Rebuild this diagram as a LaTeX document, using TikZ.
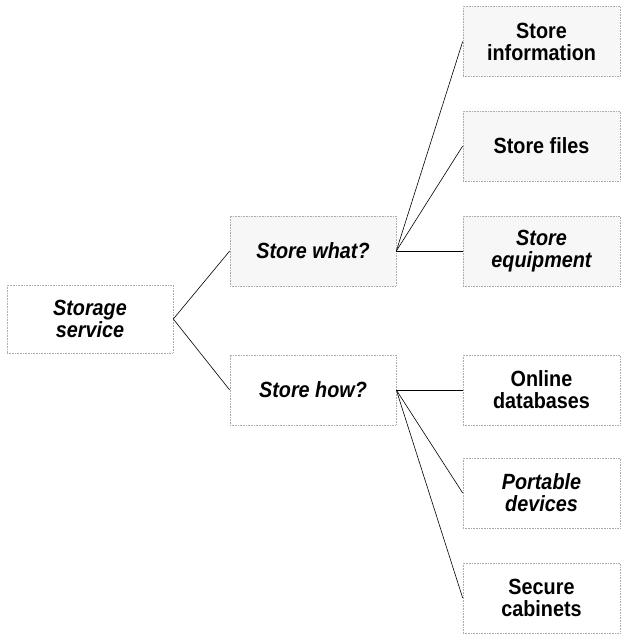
\documentclass[tikz,border=0pt]{standalone}
\usepackage{fontspec}
\setmainfont{Liberation Sans}[FakeStretch=0.9]
\begin{document}
\begin{tikzpicture}[x=1pt,y=-1pt,
  box/.style={draw=gray!65, densely dotted, line width=0.6pt,
    minimum height=70pt, align=center, inner sep=0pt,
    font=\fontsize{22}{22}\selectfont\bfseries},
  midbox/.style={box, minimum width=166pt},
  leafbox/.style={box, minimum width=157pt},
  shaded/.style={fill=black!3},
  slanted/.style={font=\fontsize{22}{22}\selectfont\bfseries\itshape},
  link/.style={draw=black, line width=0.6pt}]
\useasboundingbox (0,0) rectangle (621,634);

% root of the tree
\node[midbox, slanted, minimum height=68pt] (root) at (90,319) {Storage\\service};

% second level
\node[midbox, slanted, shaded] (what) at (313,251) {Store what?};
\node[midbox, slanted] (how) at (313,390) {Store how?};

% leaves under "what"
\node[leafbox, shaded] (info) at (541.5,41.5) {Store\\information};
\node[leafbox, shaded] (files) at (541.5,146) {Store files};
\node[leafbox, shaded, slanted] (equip) at (541.5,251) {Store\\equipment};

% leaves under "how"
\node[leafbox] (online) at (541.5,390) {Online\\databases};
\node[leafbox, slanted] (portable) at (541.5,493) {Portable\\devices};
\node[leafbox] (secure) at (541.5,598) {Secure\\cabinets};

% connectors
\draw[link] (root.east) -- (what.west);
\draw[link] (root.east) -- (how.west);
\draw[link] (what.east) -- (info.west);
\draw[link] (what.east) -- (files.west);
\draw[link] (what.east) -- (equip.west);
\draw[link] (how.east) -- (online.west);
\draw[link] (how.east) -- (portable.west);
\draw[link] (how.east) -- (secure.west);
\end{tikzpicture}
\end{document}
